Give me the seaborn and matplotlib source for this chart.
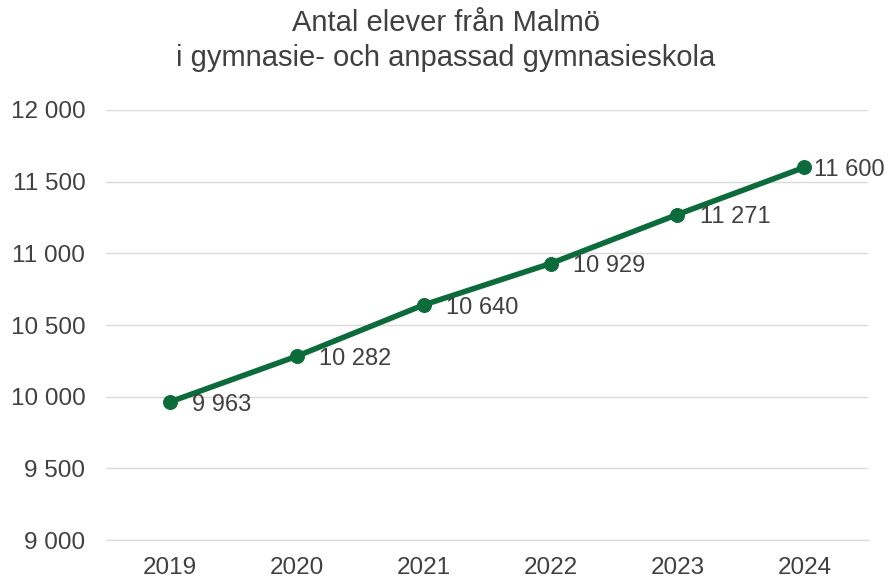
import pandas as pd
import matplotlib.pyplot as plt
import seaborn as sns
from matplotlib.ticker import FuncFormatter

sns.set_style("white")
plt.rcParams['font.family'] = ['Liberation Sans', 'DejaVu Sans']

# --- Data ---
years = ['2019', '2020', '2021', '2022', '2023', '2024']
students = [9963, 10282, 10640, 10929, 11271, 11600]

df = pd.DataFrame({'year': years, 'students': students})

green = '#0b6b3a'
text_col = '#404040'

fig, ax = plt.subplots(figsize=(8.92, 5.82), dpi=100)
fig.subplots_adjust(left=0.119, right=0.973, top=0.811, bottom=0.072)

sns.lineplot(data=df, x='year', y='students', color=green, linewidth=4,
             marker='o', markersize=10, markeredgecolor=green, ax=ax, sort=False)

# value labels to the right of each point (last one squeezed in by the edge)
for i, v in enumerate(students):
    dx = 7 if i == len(students) - 1 else 16
    ax.annotate(f"{v:,}".replace(',', ' '), (i, v), xytext=(dx, -2),
                textcoords='offset points', ha='left', va='center',
                fontsize=17, color=text_col)

ax.set_ylim(9000, 12000)
ax.set_yticks(range(9000, 12001, 500))
ax.yaxis.set_major_formatter(FuncFormatter(lambda x, p: f"{int(x):,}".replace(',', ' ')))
ax.set_xlim(-0.5, 5.5)
ax.grid(axis='y', color='#d9d9d9', linewidth=1)
ax.set_axisbelow(True)
ax.set_xlabel('')
ax.set_ylabel('')
for s in ['top', 'right', 'left']:
    ax.spines[s].set_visible(False)
ax.spines['bottom'].set_color('#d9d9d9')
ax.tick_params(axis='both', length=0, labelsize=17.5, labelcolor=text_col)
ax.tick_params(axis='x', pad=12)
ax.tick_params(axis='y', pad=15)

fig.suptitle("Antal elever från Malmö\ni gymnasie- och anpassad gymnasieskola",
             fontsize=21, color=text_col, y=0.985, linespacing=1.35)

plt.savefig('out.png', dpi=100)
